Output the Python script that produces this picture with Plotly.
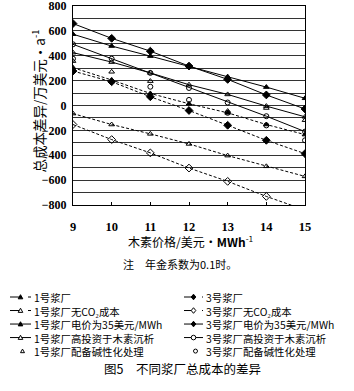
import plotly.graph_objects as go

W, H = 354, 391
L, R, T, B = 73, 305, 6, 205  # plot area in pixels

# ---------------- data ----------------
price = [9, 10, 11, 12, 13, 14, 15]
mill1 = [304, 205, 97, 14, -59, -153, -234]
mill3 = [277, 191, 70, -40, -159, -280, -387]
mill1_noco2 = [-65, -153, -228, -309, -403, -489, -570]
mill3_noco2 = [-153, -274, -381, -503, -610, -731, -840]
mill1_35 = [573, 478, 397, 315, 232, 148, 58]
mill3_35 = [659, 540, 437, 317, 210, 85, -28]
mill1_highinv = [425, 349, 262, 167, 89, -5, -91]
mill3_highinv = [492, 376, 262, 141, 24, -86, -210]
mill1_alk = [357, 271, 196, None, -45, -20, -118]
mill3_alk = [376, None, 151, 45, -59, -160, -280]

x_ticks = [9, 10, 11, 12, 13, 14, 15]

names_left = ["1号浆厂", "1号浆厂无CO₂成本", "1号浆厂电价为35美元/MWh",
              "1号浆厂高投资于木素沉析", "1号浆厂配备碱性化处理"]
names_right = ["3号浆厂", "3号浆厂无CO₂成本", "3号浆厂电价为35美元/MWh",
               "3号浆厂高投资于木素沉析", "3号浆厂配备碱性化处理"]

series_left = [mill1, mill1_noco2, mill1_35, mill1_highinv, mill1_alk]
series_right = [mill3, mill3_noco2, mill3_35, mill3_highinv, mill3_alk]

# styles: (mode, dash, symbol, size)
styles_left = [("lines+markers", "3px,2px", "triangle-up", 5),
               ("lines+markers", "3px,2px", "triangle-up-open", 5),
               ("lines+markers", "solid", "triangle-up", 5),
               ("lines+markers", "solid", "triangle-up-open", 5),
               ("markers", "solid", "triangle-up-open", 5)]
styles_right = [("lines+markers", "3px,2px", "diamond", 6),
                ("lines+markers", "3px,2px", "diamond-open", 6),
                ("lines+markers", "solid", "diamond", 6),
                ("lines+markers", "solid", "circle-open", 5),
                ("markers", "solid", "circle-open", 5)]

CJK = "Noto Sans CJK SC, Liberation Serif, serif"
NUM = "Liberation Serif, Times New Roman, serif"

fig = go.Figure()

for ys, st, nm in list(zip(series_left, styles_left, names_left)) + list(zip(series_right, styles_right, names_right)):
    mode, dash, sym, sz = st
    fig.add_trace(go.Scatter(
        x=price, y=ys, mode=mode, name=nm, showlegend=False,
        line=dict(color="black", width=1, dash=dash),
        marker=dict(symbol=sym, size=sz, color="black", line=dict(color="black", width=1)),
        connectgaps=False,
    ))


def px(x):
    return (x - L) / (R - L)


def py(y):
    return (B - y) / (B - T)


def marker_shape(sym, cx, cy, r=2.5):
    filled = not sym.endswith("open")
    base = sym.replace("-open", "")
    if base == "circle":
        return dict(type="circle", xref="paper", yref="paper",
                    x0=px(cx - r), x1=px(cx + r), y0=py(cy + r), y1=py(cy - r),
                    line=dict(color="black", width=1),
                    fillcolor="black" if filled else "white")
    if base == "diamond":
        pts = [(cx, cy - r - 0.5), (cx + r, cy), (cx, cy + r + 0.5), (cx - r, cy)]
    else:  # triangle-up
        pts = [(cx, cy - r), (cx + r, cy + r * 0.8), (cx - r, cy + r * 0.8)]
    path = "M " + " L ".join(f"{px(a):.5f},{py(b):.5f}" for a, b in pts) + " Z"
    return dict(type="path", xref="paper", yref="paper", path=path,
                line=dict(color="black", width=1),
                fillcolor="black" if filled else "white")


# ---------------- hand-drawn legend (layout shapes + text) ----------------
LEG_FONT = 10.4
row_gap = LEG_FONT * 1.3
row0 = 297
rows = [row0 + i * row_gap for i in range(5)]
cols = [(10, 31, 33), (184, 203, 205)]
shapes = []
for (x0, x1, xt), names, styles in [(cols[0], names_left, styles_left), (cols[1], names_right, styles_right)]:
    for r, st in zip(rows, styles):
        mode, dash, sym, sz = st
        xm = (x0 + x1) / 2
        if mode == "markers":
            shapes.append(marker_shape(sym, xm + 2, r, 2))
        else:
            shapes.append(dict(type="line", xref="paper", yref="paper",
                               x0=px(x0), x1=px(x1), y0=py(r), y1=py(r),
                               line=dict(color="black", width=1, dash="dash" if dash != "solid" else "solid")))
            shapes.append(marker_shape(sym, xm, r, 2.3))
    fig.add_annotation(x=px(xt), y=py(rows[2]), xref="paper", yref="paper", text="<br>".join(names),
                       showarrow=False, xanchor="left", yanchor="middle", align="left", borderpad=0,
                       font=dict(family=CJK, size=LEG_FONT, color="black"))

# other texts
fig.add_annotation(x=px(191), y=py(251), xref="paper", yref="paper", showarrow=False,
                   text="木素价格/美元·<b>MWh</b><sup>-1</sup>", borderpad=0,
                   font=dict(family=CJK, size=12, color="black"))
fig.add_annotation(x=px(180), y=py(273), xref="paper", yref="paper", showarrow=False,
                   text="注　年金系数为0.1时。", borderpad=0,
                   font=dict(family=CJK, size=11, color="black"))
fig.add_annotation(x=px(182), y=py(379), xref="paper", yref="paper", showarrow=False,
                   text="图5　不同浆厂总成本的差异", borderpad=0,
                   font=dict(family=CJK, size=12.5, color="black"))
fig.add_annotation(x=px(28), y=py(101), xref="paper", yref="paper", showarrow=False, textangle=-90,
                   text="总成本差异/万美元·a<sup>-1</sup>", borderpad=0,
                   font=dict(family=CJK, size=13.5, color="black"))

fig.update_layout(
    width=W, height=H,
    margin=dict(l=L, r=W - R, t=T, b=H - B, pad=0, autoexpand=False),
    paper_bgcolor="white", plot_bgcolor="white",
    showlegend=False,
    shapes=shapes,
    xaxis=dict(range=[9, 15], tickmode="array", tickvals=x_ticks,
               showline=True, linecolor="black", linewidth=1, mirror=True,
               showgrid=False, zeroline=False, ticks="inside", ticklen=3, tickcolor="black",
               ticklabelstandoff=10, automargin=False,
               tickfont=dict(family=NUM, size=12.5, color="black", weight="bold")),
    yaxis=dict(range=[-800, 800], tickmode="linear", tick0=0, dtick=200,
               showline=True, linecolor="black", linewidth=1, mirror=True,
               showgrid=True, gridcolor="#333", gridwidth=1, zeroline=False,
               minor=dict(tickmode="linear", tick0=0, dtick=100, showgrid=True, gridcolor="#333", gridwidth=1),
               ticks="", ticklabelstandoff=3, automargin=False, ticklabeloverflow="allow",
               tickfont=dict(family=NUM, size=12, color="black", weight="bold")),
)

fig.write_html("out.html")
